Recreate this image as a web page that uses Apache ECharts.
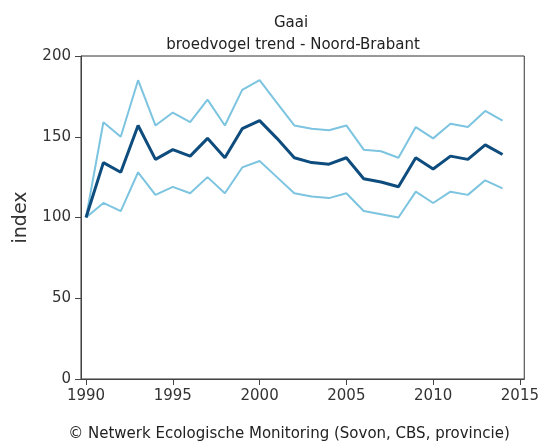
<!DOCTYPE html>
<html lang="nl">
<head>
    <meta charset="UTF-8">
    <title>Gaai - broedvogel trend</title>
    <script src="https://cdn.jsdelivr.net/npm/echarts@6/dist/echarts.min.js"></script>
    <style>
        html, body { margin: 0; padding: 0; background: #fff; }
        #main { width: 542px; height: 441px; }
    </style>
</head>
<body>
<div id="main"></div>
<script>
    // jaren en indexwaarden (1990 = 100)
    var years = [1990, 1991, 1992, 1993, 1994, 1995, 1996, 1997, 1998, 1999, 2000, 2001, 2002,
        2003, 2004, 2005, 2006, 2007, 2008, 2009, 2010, 2011, 2012, 2013, 2014];
    var upper = [100, 159, 150, 185, 157, 165, 159, 173, 157, 179, 185, 171, 157,
        155, 154, 157, 142, 141, 137, 156, 149, 158, 156, 166, 160];
    var trend = [100, 134, 128, 157, 136, 142, 138, 149, 137, 155, 160, 149, 137,
        134, 133, 137, 124, 122, 119, 137, 130, 138, 136, 145, 139];
    var lower = [100, 109, 104, 128, 114, 119, 115, 125, 115, 131, 135, 125, 115,
        113, 112, 115, 104, 102, 100, 116, 109, 116, 114, 123, 118];
    var xTicks = [1990, 1995, 2000, 2005, 2010, 2015];

    function pairs(vals) {
        return years.map(function (y, i) { return [y, vals[i]]; });
    }

    var myChart = echarts.init(document.getElementById('main'));

    var txt = { fontFamily: 'DejaVu Sans', fontSize: 15, fontWeight: 'normal', color: '#222' };

    var option = {
        animation: false,
        title: [
            { text: 'Gaai', left: 286, top: 11, textAlign: 'center', textStyle: txt },
            { text: 'broedvogel trend - Noord-Brabant', left: 288, top: 33, textAlign: 'center', textStyle: txt },
            { text: '© Netwerk Ecologische Monitoring (Sovon, CBS, provincie)', left: 284, top: 422, textAlign: 'center', textStyle: txt }
        ],
        grid: {
            left: 81, right: 15, top: 56, bottom: 62,
            show: true, borderColor: '#333', borderWidth: 1
        },
        xAxis: {
            type: 'value',
            min: 1989.71, max: 2015.25,
            splitLine: { show: false },
            axisLine: { lineStyle: { color: '#444' } },
            axisTick: { show: true, length: 6, customValues: xTicks, lineStyle: { color: '#444' } },
            axisLabel: {
                customValues: xTicks, margin: 10,
                fontFamily: 'DejaVu Sans', fontSize: 15, color: '#333',
                formatter: function (v) { return String(v); }
            }
        },
        yAxis: {
            type: 'value',
            min: 0, max: 200, interval: 50,
            name: 'index', nameLocation: 'middle', nameGap: 50,
            nameTextStyle: { fontFamily: 'DejaVu Sans', fontSize: 19, color: '#333' },
            splitLine: { show: false },
            axisLine: { show: true, lineStyle: { color: '#444' } },
            axisTick: { show: true, length: 6, lineStyle: { color: '#444' } },
            axisLabel: { margin: 10, fontFamily: 'DejaVu Sans', fontSize: 15, color: '#333' }
        },
        series: [
            {
                name: 'boven', type: 'line', data: pairs(upper),
                symbol: 'none', lineStyle: { color: '#7cc4df', width: 2 }
            },
            {
                name: 'onder', type: 'line', data: pairs(lower),
                symbol: 'none', lineStyle: { color: '#7cc4df', width: 2 }
            },
            {
                name: 'trend', type: 'line', data: pairs(trend),
                symbol: 'none', lineStyle: { color: '#0e4c7e', width: 3 }
            }
        ]
    };

    myChart.setOption(option);
</script>
</body>
</html>
